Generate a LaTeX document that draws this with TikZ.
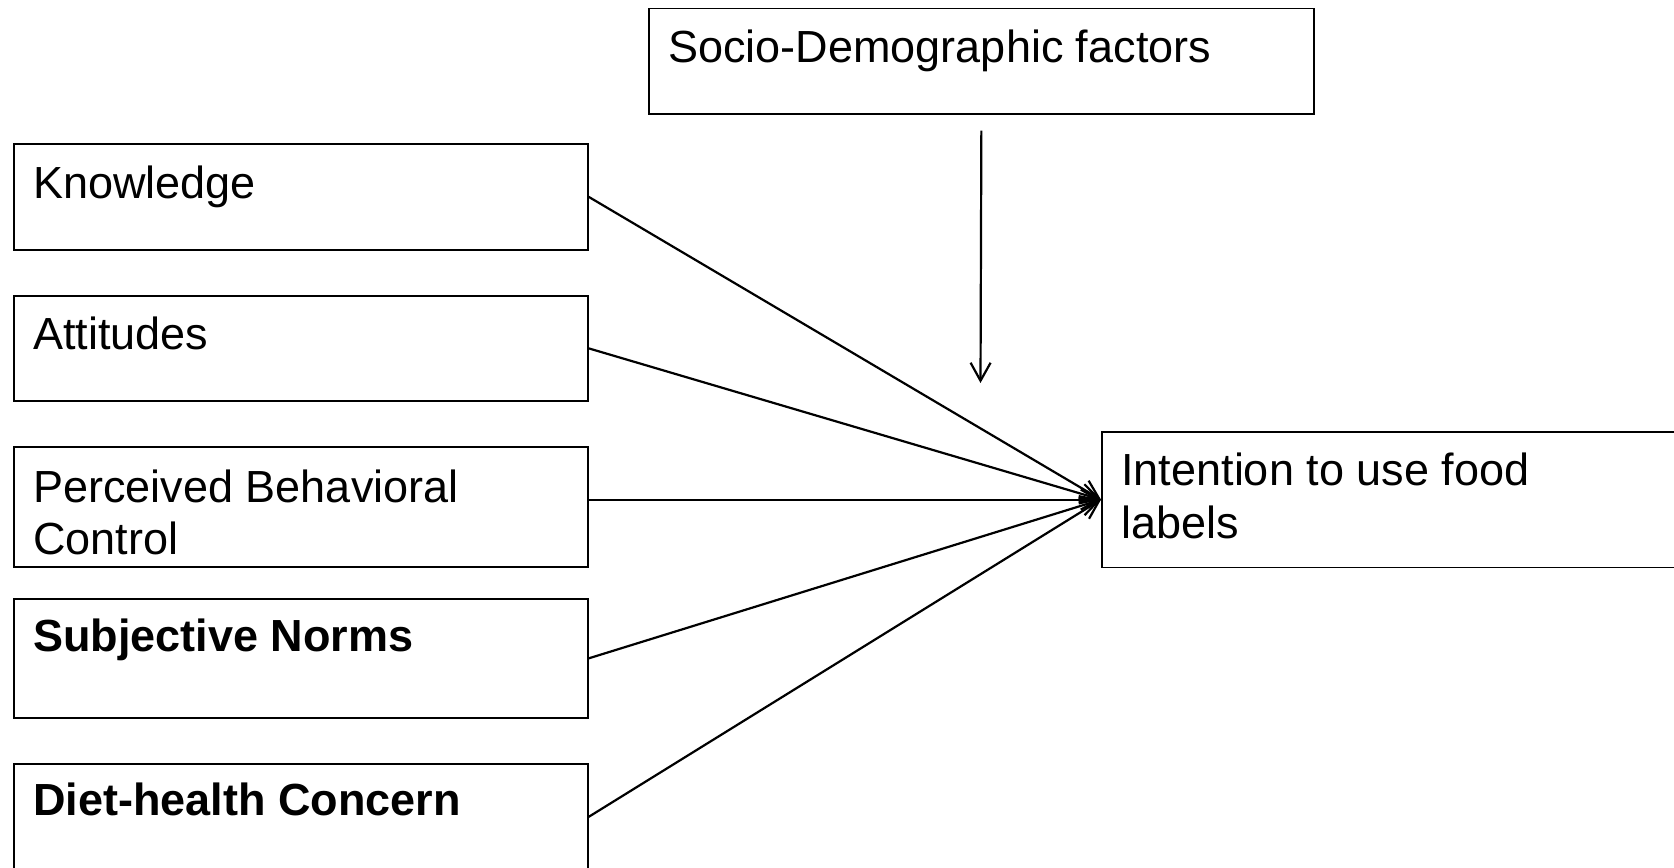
\documentclass[tikz,border=0pt]{standalone}
\usepackage{fontspec}
\setmainfont{Liberation Sans}
\usetikzlibrary{arrows.meta,calc}
\begin{document}
\begin{tikzpicture}[x=0.5pt,y=-0.5pt,
  box/.style={draw,line width=0.85pt,rectangle,inner sep=0pt,anchor=north west},
  txt/.style={anchor=base west,inner sep=0pt,font=\fontsize{22.5pt}{26.5pt}\selectfont},
  conn/.style={line width=1.1pt,-{Straight Barb[length=9pt,width=10pt,line width=1.1pt]}}]
\useasboundingbox (0,0) rectangle (1674,867);
\clip (0,0) rectangle (1674,867);
% boxes
\node[box,minimum width=665*0.5pt,minimum height=105.5*0.5pt] (s) at (648,7.5) {};
\node[box,minimum width=574*0.5pt,minimum height=106*0.5pt] (k) at (13,143) {};
\node[box,minimum width=574*0.5pt,minimum height=105*0.5pt] (a) at (13,295) {};
\node[box,minimum width=574*0.5pt,minimum height=120*0.5pt] (p) at (13,446) {};
\node[box,minimum width=574*0.5pt,minimum height=119*0.5pt] (n) at (13,598) {};
\node[box,minimum width=574*0.5pt,minimum height=106*0.5pt] (d) at (13,763) {};
\node[box,minimum width=600*0.5pt,minimum height=135.5*0.5pt] (i) at (1101,431) {};
% texts
\node[txt] (st) at ($(s.north west)+(20,54.5)$) {Socio-Demographic factors};
\node[txt] (kt) at ($(k.north west)+(20,55)$) {Knowledge};
\node[txt] (at) at ($(a.north west)+(20,54)$) {Attitudes};
\node[txt] (pt1) at ($(p.north west)+(20,56)$) {Perceived Behavioral};
\node[txt] (pt2) at ($(p.north west)+(20,108)$) {Control};
\node[txt,font=\fontsize{22.5pt}{26.5pt}\selectfont\bfseries] (nt) at ($(n.north west)+(20,53)$) {Subjective Norms};
\node[txt,font=\fontsize{22.5pt}{26.5pt}\selectfont\bfseries] (dt) at ($(d.north west)+(20,52)$) {Diet-health Concern};
\node[txt] (it1) at ($(i.north west)+(20,54)$) {Intention to use food};
\node[txt] (it2) at ($(i.north west)+(20,107)$) {labels};
% connectors
\coordinate (sa) at ($(s.south)+(0,16)$);
\coordinate (se) at (980.5,383);
\draw[conn] (sa) -- (se);
\draw[conn] (k.east) -- (i.west);
\draw[conn] (a.east) -- (i.west);
\draw[conn] (p.east |- i.west) -- (i.west);
\draw[conn] (n.east) -- (i.west);
\draw[conn] (d.east) -- (i.west);
\end{tikzpicture}
\end{document}
